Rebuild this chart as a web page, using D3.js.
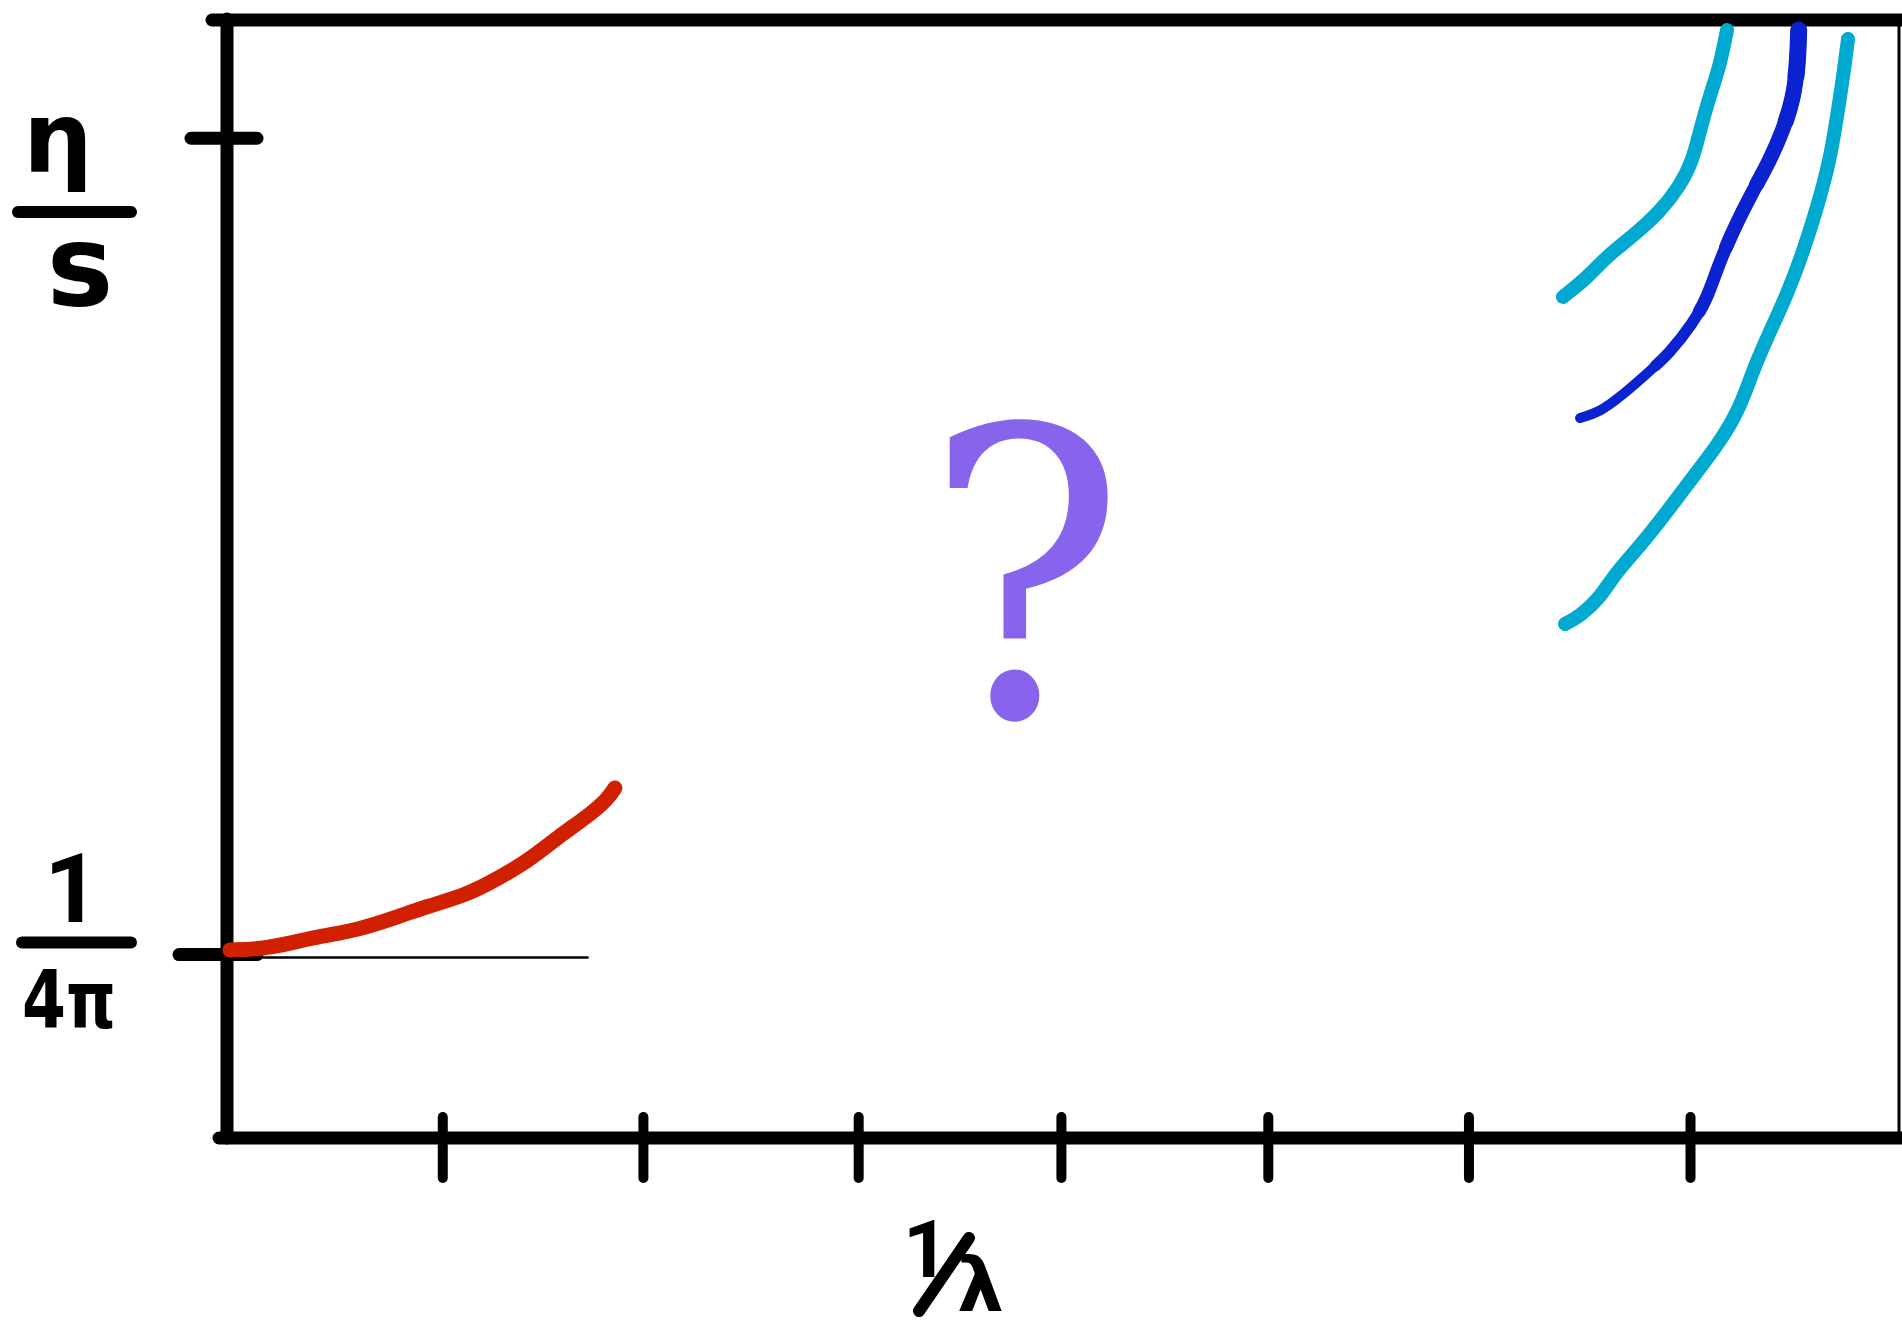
<!DOCTYPE html>
<html>
<head>
<meta charset="utf-8">
<script src="https://cdn.jsdelivr.net/npm/d3@7"></script>
<style>
  body { margin: 0; background: #fff; }
  svg { display: block; }
</style>
</head>
<body>
<svg id="chart" width="1902" height="1330"></svg>
<script>
// x: 1/λ in tick spacings; y: η/s in units of the KSS bound 1/(4π)
const xTicks = [1.03, 1.99, 3.02, 3.99, 4.98, 5.94, 7.0];
const yTicks = [1, 5.45];
const kssBound = 1;
const kssSpan = [0, 1.73];

// weak-coupling side (red)
const weakX = [0.014, 0.163, 0.306, 0.450, 0.627, 0.828, 0.947, 1.148, 1.292, 1.440, 1.584, 1.727, 1.818, 1.856];
const weakY = [1.025, 1.030, 1.063, 1.101, 1.134, 1.210, 1.259, 1.325, 1.412, 1.510, 1.641, 1.755, 1.843, 1.908];

// strong-coupling side: central estimate (blue) with upper/lower band (cyan)
const bandHiX = [6.392, 6.507, 6.603, 6.727, 6.856, 6.952, 7.014, 7.048, 7.096, 7.144, 7.177];
const bandHiY = [4.585, 4.688, 4.808, 4.917, 5.048, 5.190, 5.331, 5.495, 5.686, 5.849, 6.040];
const midX = [6.474, 6.569, 6.665, 6.775, 6.904, 7.014, 7.081, 7.129, 7.206, 7.301, 7.383, 7.445, 7.493, 7.515, 7.52];
const midY = [3.925, 3.958, 4.039, 4.148, 4.279, 4.443, 4.574, 4.737, 4.950, 5.162, 5.331, 5.495, 5.658, 5.849, 6.040];
const bandLoX = [6.402, 6.474, 6.569, 6.640, 6.761, 6.890, 7.014, 7.144, 7.239, 7.300, 7.368, 7.464, 7.541, 7.608, 7.670, 7.703, 7.732, 7.756];
const bandLoY = [2.802, 2.846, 2.944, 3.075, 3.227, 3.413, 3.603, 3.794, 3.980, 4.180, 4.361, 4.595, 4.830, 5.070, 5.331, 5.566, 5.778, 5.991];

const svg = d3.select("#chart");
const x = d3.scaleLinear().domain([0, 8]).range([227, 1899]);
const y = d3.scaleLinear().domain([0, 6.1]).range([1138, 19]);

svg.append("rect").attr("width", 1902).attr("height", 1330).attr("fill", "#fff");

const ink = "#000";

// frame: thin right edge, heavy top edge
svg.append("line")
  .attr("x1", x(8)).attr("x2", x(8)).attr("y1", y(6.1)).attr("y2", y(0))
  .attr("stroke", ink).attr("stroke-width", 3);
svg.append("line")
  .attr("x1", x(0) - 15).attr("x2", 1902).attr("y1", y(6.1) + 1).attr("y2", y(6.1) + 1)
  .attr("stroke", ink).attr("stroke-width", 13).attr("stroke-linecap", "round");

// y axis
svg.append("line")
  .attr("x1", x(0)).attr("x2", x(0)).attr("y1", y(6.1)).attr("y2", y(0))
  .attr("stroke", ink).attr("stroke-width", 13).attr("stroke-linecap", "round");
svg.selectAll(".ytick").data(yTicks).join("line")
  .attr("class", "ytick")
  .attr("x1", (d, i) => x(0) - (i === 0 ? 48 : 36))
  .attr("x2", x(0) + 30)
  .attr("y1", d => y(d)).attr("y2", d => y(d))
  .attr("stroke", ink).attr("stroke-width", 13).attr("stroke-linecap", "round");

// x axis with ticks crossing the line
const xAxis = svg.append("g")
  .attr("transform", `translate(0,${y(0)})`)
  .call(d3.axisBottom(x).tickValues(xTicks).tickSize(56).tickFormat(""));
xAxis.select(".domain").remove();
xAxis.selectAll(".tick line")
  .attr("y1", -21).attr("y2", 40)
  .attr("stroke", ink).attr("stroke-width", 10).attr("stroke-linecap", "round");
xAxis.append("line")
  .attr("x1", x(0) - 8).attr("x2", 1902).attr("y1", 0).attr("y2", 0)
  .attr("stroke", ink).attr("stroke-width", 13).attr("stroke-linecap", "round");

// KSS reference line
svg.append("line")
  .attr("x1", x(kssSpan[0])).attr("x2", x(kssSpan[1]))
  .attr("y1", y(kssBound) + 3).attr("y2", y(kssBound) + 3)
  .attr("stroke", ink).attr("stroke-width", 2.5);

// curves, smoothed like a marker stroke
const line = d3.line().x(d => x(d[0])).y(d => y(d[1])).curve(d3.curveBasis);
const blue = "#0a22cf", cyan = "#00a9cf", red = "#d02000";
const curves = [
  { xs: weakX,   ys: weakY,   color: red,  w: 15 },
  { xs: bandHiX, ys: bandHiY, color: cyan, w: 14 },
  { xs: midX,    ys: midY,    color: blue, w: 10 },
  { xs: bandLoX, ys: bandLoY, color: cyan, w: 14 }
];
svg.selectAll(".curve").data(curves).join("path")
  .attr("class", "curve")
  .attr("d", c => line(d3.zip(c.xs, c.ys)))
  .attr("fill", "none")
  .attr("stroke", c => c.color)
  .attr("stroke-width", c => c.w)
  .attr("stroke-linecap", "round")
  .attr("stroke-linejoin", "round");

// the blue stroke gets heavier towards the top: same path, wider layers over its upper part
const midD = line(d3.zip(midX, midY));
const taper = [[0.2, 11.5], [0.35, 13], [0.5, 14], [0.65, 15], [0.8, 16], [0.9, 17]];
taper.forEach(([from, w]) => {
  const p = svg.append("path").attr("d", midD)
    .attr("fill", "none").attr("stroke", blue).attr("stroke-width", w)
    .attr("stroke-linecap", "round");
  const L = p.node().getTotalLength();
  p.attr("stroke-dasharray", `${L * (1 - from)} ${L * 2}`)
   .attr("stroke-dashoffset", -L * from);
});

// labels
const hand = "'DejaVu Sans', sans-serif";
const digit = "Roboto, sans-serif";
const lbl = svg.append("g").attr("font-family", hand).attr("font-weight", "bold").attr("fill", ink).attr("text-anchor", "middle");

// y-axis title η / s
lbl.append("text").attr("x", 58).attr("y", 172).attr("font-size", 98).text("η");
lbl.append("line").attr("x1", 18).attr("x2", 131).attr("y1", 212).attr("y2", 212)
  .attr("stroke", ink).attr("stroke-width", 12).attr("stroke-linecap", "round");
lbl.append("text").attr("x", 80).attr("y", 305).attr("font-size", 112).text("s");

// 1 / 4π at the KSS tick
lbl.append("text").attr("x", 72).attr("y", 922).attr("font-family", digit).attr("font-size", 97).text("1");
lbl.append("line").attr("x1", 22).attr("x2", 131).attr("y1", y(kssBound) - 12).attr("y2", y(kssBound) - 12)
  .attr("stroke", ink).attr("stroke-width", 12).attr("stroke-linecap", "round");
lbl.append("text").attr("x", 22).attr("y", 1028).attr("text-anchor", "start")
  .attr("font-size", 80).attr("textLength", 94).attr("lengthAdjust", "spacingAndGlyphs").text("4π");

// x-axis title 1/λ, a slanted fraction
lbl.append("text").attr("x", 926).attr("y", 1277).attr("font-family", digit).attr("font-size", 80).text("1");
lbl.append("line").attr("x1", 919).attr("y1", 1311).attr("x2", 969).attr("y2", 1238)
  .attr("stroke", ink).attr("stroke-width", 12).attr("stroke-linecap", "round");
lbl.append("text").attr("x", 957).attr("y", 1311).attr("text-anchor", "start").attr("font-size", 74).text("λ");

// open question between the two regimes
svg.append("text")
  .attr("transform", "translate(1025,716) scale(0.94,1)")
  .attr("text-anchor", "middle")
  .attr("font-family", "'DejaVu Serif', serif")
  .attr("font-size", 400)
  .attr("fill", "#8863eb")
  .text("?");
</script>
</body>
</html>
